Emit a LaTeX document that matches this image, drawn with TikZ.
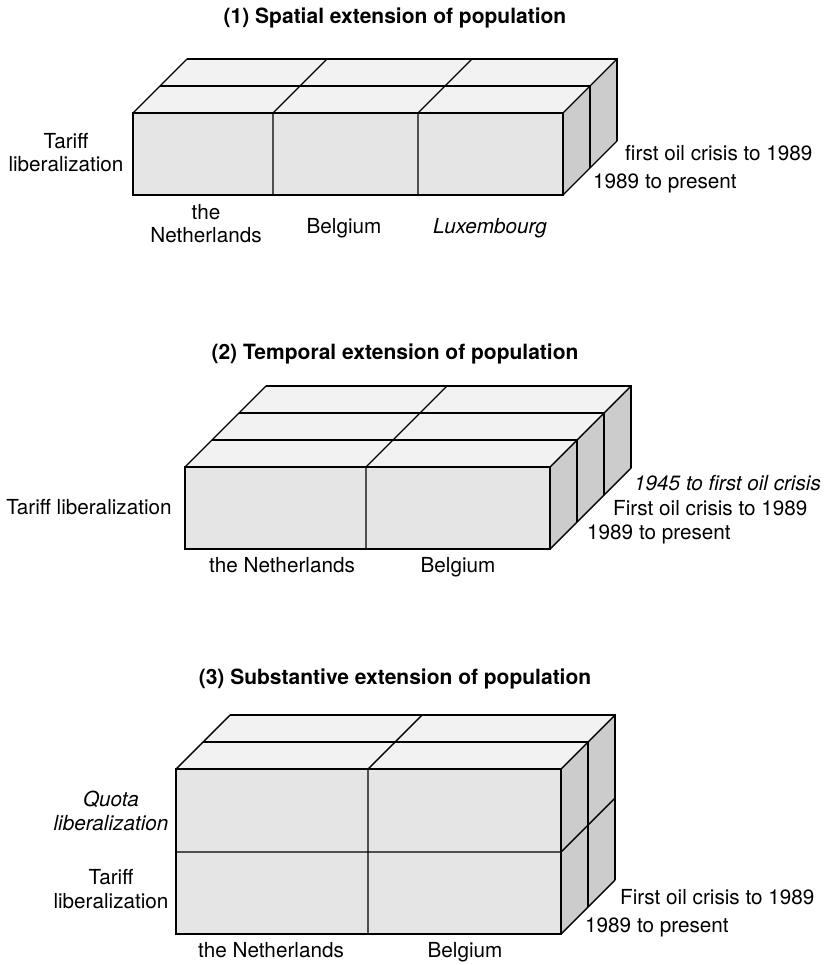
\documentclass[tikz,border=0pt]{standalone}
\usepackage{fontspec}
\setmainfont{TeX Gyre Heros}
\definecolor{frontgray}{HTML}{E5E5E5}
\definecolor{topgray}{HTML}{F2F2F2}
\definecolor{sidegray}{HTML}{CCCCCC}

% A block of cells seen from the front-right:
% #1,#2 = front top-left, #3,#4 = front bottom-right, #5 = layers in depth,
% #6 = x positions of the column dividers on the front face.
\newcommand{\cellblock}[6]{%
  \pgfmathsetmacro\dd{27*#5}
  \fill[topgray] (#1,#2) -- (#3,#2) -- ++(\dd,-\dd) -- ++(#1-#3,0) -- cycle;
  \fill[sidegray] (#3,#2) -- (#3,#4) -- ++(\dd,-\dd) -- ++(0,#2-#4) -- cycle;
  \fill[frontgray] (#1,#2) rectangle (#3,#4);
  \foreach \k in {1,...,#5} {
    \draw[edge] (#1+27*\k,#2-27*\k) -- (#3+27*\k,#2-27*\k)
                -- (#3+27*\k,#4-27*\k);
  }
  \foreach \c in {#6} {
    \draw[edge] (\c,#4) -- (\c,#2) -- ++(\dd,-\dd);
  }
  \draw[edge] (#1,#2) -- ++(\dd,-\dd);
  \draw[edge] (#3,#2) -- ++(\dd,-\dd);
  \draw[edge] (#3,#4) -- ++(\dd,-\dd);
  \draw[edge] (#1,#2) rectangle (#3,#4);
}

\begin{document}
\begin{tikzpicture}[x=1pt,y=-1pt,
  edge/.style={line width=1.4pt, line join=miter},
  lbl/.style={font=\fontsize{20.7}{23.5}\selectfont, inner sep=0pt, align=center, anchor=base},
  lblw/.style={lbl, anchor=base west},
  ttl/.style={font=\fontsize{21}{24}\selectfont\bfseries, inner sep=0pt, anchor=base}]
\useasboundingbox (0,0) rectangle (832,965);

% (1) spatial extension: three countries, two periods
% (multi-line labels are placed by the baseline of their last line)
\node[ttl] (title1) at (395,24) {(1) Spatial extension of population};
\cellblock{133}{113}{563}{195}{2}{273,418}
\node[lbl] (tariff1) at (66,172) {Tariff\\liberalization};
\node[lbl] (nl1) at (206,243) {the\\Netherlands};
\node[lbl] (be1) at (344,234) {Belgium};
\node[lbl] (lu1) at (490,234) {\itshape Luxembourg};
\node[lblw] (p1a) at (625,161) {first oil crisis to 1989};
\node[lblw] (p1b) at (593,189) {1989 to present};

% (2) temporal extension: two countries, three periods
\node[ttl] (title2) at (395,359) {(2) Temporal extension of population};
\cellblock{185}{467}{550}{549}{3}{366}
\node[lbl] (tariff2) at (89,514) {Tariff liberalization};
\node[lbl] (nl2) at (282,572) {the Netherlands};
\node[lbl] (be2) at (458,572) {Belgium};
\node[lblw] (p2a) at (634,490) {\itshape 1945 to first oil crisis};
\node[lblw] (p2b) at (613,515) {First oil crisis to 1989};
\node[lblw] (p2c) at (587,539) {1989 to present};

% (3) substantive extension: two countries, two periods, two policies
\node[ttl] (title3) at (395,684) {(3) Substantive extension of population};
\cellblock{176}{769}{561}{934}{2}{368}
\draw[edge] (176,852) -- (561,852) -- ++(54,-54);
\node[lbl] (quota3) at (111,830) {\itshape Quota\\\itshape liberalization};
\node[lbl] (tariff3) at (111,908) {Tariff\\liberalization};
\node[lbl] (nl3) at (271,957) {the Netherlands};
\node[lbl] (be3) at (465,957) {Belgium};
\node[lblw] (p3a) at (620,904) {First oil crisis to 1989};
\node[lblw] (p3b) at (585,932) {1989 to present};
\end{tikzpicture}
\end{document}
